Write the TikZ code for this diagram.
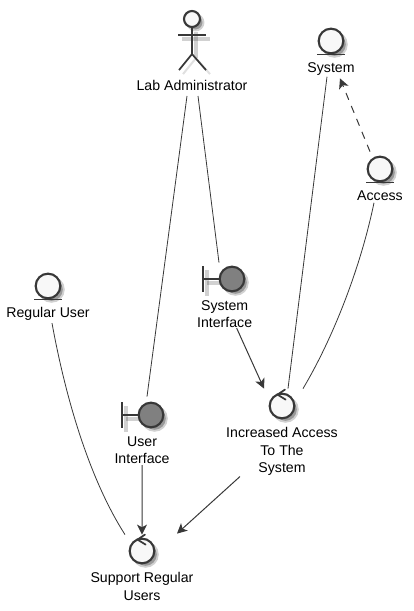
\documentclass[tikz,border=0pt]{standalone}
\usepackage{fontspec}
\setmainfont{Liberation Sans}
\usepackage{xcolor}
\usepackage{tikz}
\usetikzlibrary{arrows.meta,positioning,backgrounds}

\definecolor{ink}{HTML}{383838}
\definecolor{paper}{HTML}{F8F8F8}
\definecolor{bfill}{HTML}{808080}

\begin{document}
\begin{tikzpicture}[
  x=0.75pt,y=-0.75pt,
  ico/.style={circle,draw=ink,line width=1.6pt,minimum size=18.5pt,inner sep=0pt,fill=paper},
  bico/.style={ico,fill=bfill},
  stroke/.style={draw=ink,line width=1.3pt},
  ghost/.style={draw=black,opacity=.18,line width=3pt},
  halo/.style={circle,fill=black!40,draw=black!18,line width=1.4pt,minimum size=18.5pt,inner sep=0pt},
  lbl/.style={align=center,inner sep=0pt,font=\fontsize{10.6pt}{12.9pt}\selectfont,text=black},
  lnk/.style={draw=ink,line width=.6pt},
  arr/.style={lnk,-{Stealth[length=7.5pt,width=7.5pt,inset=2pt]},line width=.75pt}
]
\useasboundingbox (0,0) rectangle (414,611);

% icons
\node[ico,minimum size=12pt] (admin) at (192,19) {};
\node[ico] (system) at (331,41) {};
\node[ico] (access) at (380,169) {};
\node[ico] (reguser) at (48,286) {};
\node[bico] (sysif) at (232,279) {};
\node[bico] (userif) at (151,415) {};
\node[ico] (incr) at (282,406) {};
\node[ico] (support) at (142,551) {};

% labels
\node[lbl,below=39pt of admin.south,anchor=north] (adminlbl) {Lab Administrator};
\node[lbl,below=6pt of system.south,anchor=north] (systemlbl) {System};
\node[lbl,below=6pt of access.south,anchor=north] (accesslbl) {Access};
\node[lbl,below=6pt of reguser.south,anchor=north] (reguserlbl) {Regular User};
\node[lbl,below=6pt of sysif.south,anchor=north,xshift=-5.5pt] (sysiflbl) {System\\Interface};
\node[lbl,below=6pt of userif.south,anchor=north,xshift=-6.7pt] (useriflbl) {User\\Interface};
\node[lbl,below=6pt of incr.south,anchor=north] (incrlbl) {Increased Access\\To The\\System};
\node[lbl,below=6pt of support.south,anchor=north] (supportlbl) {Support Regular\\Users};

% shadows and boundary bars
\begin{scope}[on background layer]
\node[halo,minimum size=12pt] (adminsh) at ([shift={(3.5,3.5)}]admin.center) {};
\node[halo] (systemsh) at ([shift={(3.5,3.5)}]system.center) {};
\node[halo] (accesssh) at ([shift={(3.5,3.5)}]access.center) {};
\node[halo] (regusersh) at ([shift={(3.5,3.5)}]reguser.center) {};
\node[halo] (sysifsh) at ([shift={(3.5,3.5)}]sysif.center) {};
\node[halo] (userifsh) at ([shift={(3.5,3.5)}]userif.center) {};
\node[halo] (incrsh) at ([shift={(3.5,3.5)}]incr.center) {};
\node[halo] (supportsh) at ([shift={(3.5,3.5)}]support.center) {};
\draw[ghost] ([shift={(4,4)}]admin.south) -- ++(0,26);
\draw[ghost] ([shift={(-10,11)}]admin.south) -- ++(28,0);
\draw[ghost,line width=1.5pt,opacity=.12] ([shift={(4,30)}]admin.south) -- ++(-13,16);
\draw[ghost,line width=1.5pt,opacity=.12] ([shift={(4,30)}]admin.south) -- ++(14,16);
\draw[ghost] ([shift={(-25,-9)}]sysif.center) -- ++(0,26);
\draw[ghost] ([shift={(-25,4)}]sysif.center) -- ++(17,0);
\draw[ghost] ([shift={(-25,-9)}]userif.center) -- ++(0,26);
\draw[ghost] ([shift={(-25,4)}]userif.center) -- ++(17,0);
\draw[stroke] ([shift={(-29,-13)}]sysif.center) -- ++(0,26);
\draw[stroke] ([shift={(-29,0)}]sysif.center) -- (sysif.center);
\draw[stroke] ([shift={(-29,-13)}]userif.center) -- ++(0,26);
\draw[stroke] ([shift={(-29,0)}]userif.center) -- (userif.center);
\end{scope}

% actor body
\draw[stroke] (admin.south) -- ++(0,26) coordinate (hip);
\draw[stroke] ([shift={(-14,7)}]admin.south) -- ++(28,0);
\draw[stroke] (hip) -- ++(-13,16);
\draw[stroke] (hip) -- ++(14,16);

% entity bars
\draw[stroke] ([xshift=-10.5pt]system.south) -- ([xshift=10.5pt]system.south);
\draw[stroke] ([xshift=-10.5pt]access.south) -- ([xshift=10.5pt]access.south);
\draw[stroke] ([xshift=-10.5pt]reguser.south) -- ([xshift=10.5pt]reguser.south);

% control marks
\draw[stroke,line cap=round] ([shift={(3,-3)}]incr.north) -- ([shift={(-4.5,2)}]incr.north) -- ([shift={(3.6,7)}]incr.north);
\draw[stroke,line cap=round] ([shift={(3,-3)}]support.north) -- ([shift={(-4.5,2)}]support.north) -- ([shift={(3.6,7)}]support.north);

% connectors
\draw[lnk] ([shift={(-5,5)}]adminlbl.south) -- ([shift={(-4,-5)}]userif.north);
\draw[lnk] ([shift={(6,5)}]adminlbl.south) -- ([shift={(-13,-3)}]sysif.north);
\draw[lnk] ([shift={(-4,1)}]systemlbl.south) -- ([shift={(6,-4)}]incr.north);
\draw[lnk] ([shift={(-6,2)}]accesslbl.south) .. controls (360,270) and (332,340) .. ([shift={(21,-4)}]incr.north);
\draw[lnk] ([shift={(4,2)}]reguserlbl.south) .. controls (66,400) and (90,480) .. ([shift={(-17,-3)}]support.north);
\draw[arr] ([shift={(12,0)}]sysiflbl.south) -- ([shift={(-18,-4)}]incr.north);
\draw[arr] ([shift={(-42,1)}]incrlbl.south) -- ([shift={(35,-4)}]support.north);
\draw[arr] ([shift={(0,1)}]useriflbl.south) -- ([shift={(0,-3)}]support.north);
\draw[arr,dashed,dash pattern=on 5.5pt off 5pt] ([shift={(-10,-4)}]access.north) -- ([shift={(9,16)}]systemlbl.north);
\end{tikzpicture}
\end{document}
